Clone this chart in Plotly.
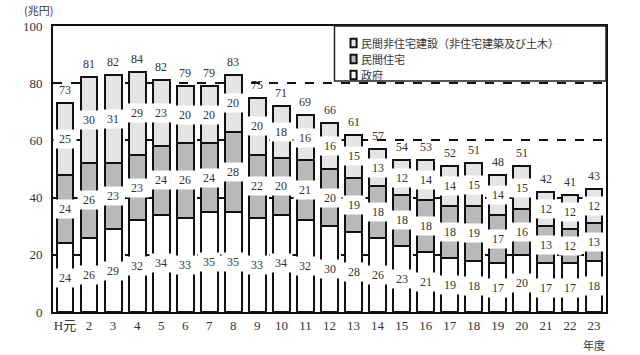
import plotly.graph_objects as go

years = ["H元", "2", "3", "4", "5", "6", "7", "8", "9", "10", "11", "12",
         "13", "14", "15", "16", "17", "18", "19", "20", "21", "22", "23"]
government = [24, 26, 29, 32, 34, 33, 35, 35, 33, 34, 32, 30, 28, 26, 23, 21, 19, 18, 17, 20, 17, 17, 18]
private_housing = [24, 26, 23, 23, 24, 26, 24, 28, 22, 20, 21, 20, 19, 18, 18, 18, 18, 19, 17, 16, 13, 12, 13]
private_nonres = [25, 30, 31, 29, 23, 20, 20, 20, 20, 18, 16, 16, 15, 13, 12, 14, 14, 15, 14, 15, 12, 12, 12]
totals = [73, 81, 82, 84, 82, 79, 79, 83, 75, 71, 69, 66, 61, 57, 54, 53, 52, 51, 48, 51, 42, 41, 43]

series = [
    ("政府", government, "#ffffff"),
    ("民間住宅", private_housing, "#b9b9b9"),
    ("民間非住宅建設（非住宅建築及び土木）", private_nonres, "#e4e4e4"),
]

NUMFONT = "Liberation Serif, DejaVu Serif, serif"
JPFONT = "Noto Sans CJK JP, sans-serif"
TXT = "#333333"

idx = list(range(len(years)))

fig = go.Figure()
for name, vals, col in series:
    fig.add_trace(go.Bar(
        x=idx, y=vals, name=name, width=0.7,
        marker=dict(color=col, line=dict(color="#111111", width=2)),
        showlegend=False,
    ))

annotations = []
bases = [0] * len(years)
for name, vals, col in series:
    for i, v in enumerate(vals):
        annotations.append(dict(
            x=i, y=bases[i] + v / 2, text=str(v), showarrow=False,
            xref="x", yref="y", bgcolor="white", width=20, height=16,
            font=dict(family=NUMFONT, size=12, color=TXT),
        ))
        bases[i] += v
for i, t in enumerate(totals):
    annotations.append(dict(
        x=i, y=bases[i], text=str(t), showarrow=False,
        xref="x", yref="y", yanchor="bottom", yshift=4,
        font=dict(family=NUMFONT, size=12, color=TXT),
    ))

# unit label and year label
annotations.append(dict(x=0, y=1, xref="paper", yref="paper", xanchor="right", yanchor="bottom",
                        xshift=2, yshift=6, text="(兆円)", showarrow=False,
                        font=dict(family=JPFONT, size=11, color=TXT)))
annotations.append(dict(x=len(years) - 1, y=0, xref="x", yref="y", yanchor="top", yshift=-23,
                        text="年度", showarrow=False,
                        font=dict(family=JPFONT, size=11, color=TXT)))

# manual legend (top-right box)
shapes = [dict(type="rect", xref="paper", yref="paper", x0=0.509, x1=1.0, y0=0.808, y1=1.0,
               line=dict(color="#222222", width=1.5), fillcolor="white", layer="above")]
leg_items = [series[2], series[1], series[0]]
leg_y = [0.9406, 0.8846, 0.8287]
for (name, vals, col), yy in zip(leg_items, leg_y):
    shapes.append(dict(type="rect", xref="paper", yref="paper",
                       x0=0.538, x1=0.549, y0=yy - 0.015, y1=yy + 0.015,
                       line=dict(color="#111111", width=2), fillcolor=col, layer="above"))
    annotations.append(dict(x=0.553, y=yy, xref="paper", yref="paper", xanchor="left",
                            yanchor="middle", text=name, showarrow=False,
                            font=dict(family=JPFONT, size=11, color=TXT)))

fig.update_layout(
    width=640, height=355, margin=dict(l=53, r=34, t=26, b=43),
    paper_bgcolor="white", plot_bgcolor="white",
    barmode="stack", bargap=0.3,
    annotations=annotations, shapes=shapes, showlegend=False,
)
fig.update_xaxes(
    range=[-0.5, 22.5], tickvals=idx, ticktext=years, showgrid=False,
    showline=True, mirror=True, linecolor="#111111", linewidth=2,
    ticks="", tickfont=dict(family=NUMFONT + ", " + JPFONT, size=13, color=TXT),
)
fig.update_yaxes(
    range=[0, 100], tickvals=[0, 20, 40, 60, 80, 100],
    showgrid=True, gridcolor="#111111", gridwidth=1.5, griddash="dash",
    showline=True, mirror=True, linecolor="#111111", linewidth=2,
    ticks="", ticklabelstandoff=6,
    tickfont=dict(family=NUMFONT, size=13, color=TXT), zeroline=False,
)
fig.write_html("out.html")
